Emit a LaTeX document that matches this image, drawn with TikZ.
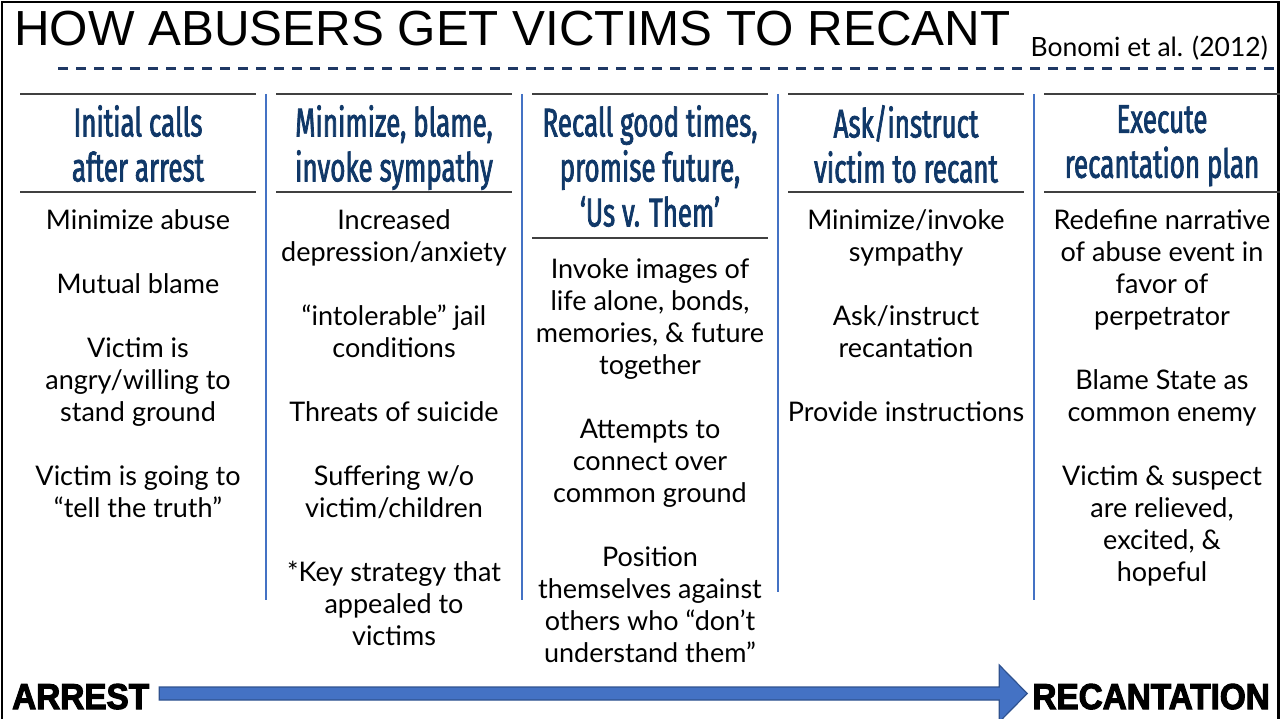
\documentclass[tikz,border=0pt]{standalone}
\usepackage{fontspec}
\setmainfont{Lato}
\newfontfamily\titlefont{Liberation Sans}
\newfontfamily\headfont[FakeStretch=0.65,FakeBold=1.8]{Fira Sans}
\newfontfamily\endfont[FakeStretch=0.925,FakeBold=3]{Liberation Sans Bold}

\definecolor{navy}{HTML}{103868}
\definecolor{dashnavy}{HTML}{1F3864}
\definecolor{sepblue}{HTML}{4472C4}
\definecolor{arrowedge}{HTML}{2F528F}
\definecolor{rulegray}{HTML}{404040}

\tikzset{
  head/.style={font=\headfont\fontsize{40}{45}\selectfont, text=navy, align=center,
    inner sep=0pt, anchor=north, execute at begin node={\rule{0pt}{38pt}}},
  body/.style={font=\fontsize{27}{32}\selectfont, align=center,
    inner sep=0pt, anchor=north, execute at begin node={\rule{0pt}{22pt}}},
  endlabel/.style={font=\endfont\fontsize{36}{36}\selectfont, inner sep=0pt,
    text height=31pt, text depth=0pt},
  colrule/.style={rulegray, line width=1.8pt},
  colsep/.style={sepblue, line width=2.2pt},
  bigarrow/.style={fill=sepblue, draw=arrowedge, line width=1.2pt}
}

\begin{document}
\begin{tikzpicture}[x=1pt, y=-1pt]
\useasboundingbox (0,0) rectangle (1281,719);

% Frame
\draw[line width=2.5pt] (2,719) -- (2,2) -- (1278.5,2) -- (1278.5,719);

% Title and source
\node[anchor=base west, inner sep=0pt, font=\titlefont\fontsize{49.3}{49.3}\selectfont]
  (title) at (14,46) {HOW ABUSERS GET VICTIMS TO RECANT};
\node[anchor=base east, inner sep=0pt, font=\fontsize{26.5}{30}\selectfont]
  (source) at (1268,57) {Bonomi et al. (2012)};
\draw[dashnavy, line width=3pt, dash pattern=on 10pt off 8pt] (58,69) -- (1276,69);

% Header rules
\foreach \x in {20,276,532,788,1044}
  \draw[colrule] (\x,94) -- ++(236,0);
\foreach \x in {20,276,788,1044}
  \draw[colrule] (\x,192) -- ++(236,0);
\draw[colrule] (532,238) -- ++(236,0);

% Column separators
\draw[colsep] (266,94) -- (266,600);
\draw[colsep] (522,94) -- (522,600);
\draw[colsep] (778,94) -- (778,592);
\draw[colsep] (1034,94) -- (1034,600);

% Headers
\node[head] (head1) at (138,105) {Initial calls\\after arrest};
\node[head] (head2) at (394,105) {Minimize, blame,\\invoke sympathy};
\node[head] (head3) at (650,105) {Recall good times,\\promise future,\\‘Us v. Them’};
\node[head] (head4) at (906,105) {Ask/instruct\\victim to recant};
\node[head] (head5) at (1162,105) {Execute\\recantation plan};

% Column texts
\node[body] (body1) at (138,209) {Minimize abuse\\[32pt]Mutual blame\\[32pt]Victim is\\angry/willing to\\stand ground\\[32pt]Victim is going to\\“tell the truth”};
\node[body] (body2) at (394,209) {Increased\\depression/anxiety\\[32pt]“intolerable” jail\\conditions\\[32pt]Threats of suicide\\[32pt]Suffering w/o\\victim/children\\[32pt]*Key strategy that\\appealed to\\victims};
\node[body] (body3) at (650,258) {Invoke images of\\life alone, bonds,\\memories, \& future\\together\\[32pt]Attempts to\\connect over\\common ground\\[32pt]Position\\themselves against\\others who “don’t\\understand them”};
\node[body] (body4) at (906,209) {Minimize/invoke\\sympathy\\[32pt]Ask/instruct\\recantation\\[32pt]Provide instructions};
\node[body] (body5) at (1162,209) {Redefine narrative\\of abuse event in\\favor of\\perpetrator\\[32pt]Blame State as\\common enemy\\[32pt]Victim \& suspect\\are relieved,\\excited, \&\\hopeful};

% Timeline
\node[endlabel, anchor=west] (arrest) at (12,693.5) {ARREST};
\node[endlabel, anchor=east] (recant) at (1270,693.5) {RECANTATION};
\filldraw[bigarrow] ([xshift=10pt,yshift=6.5pt]arrest.east)
  -- ([xshift=-33pt,yshift=6.5pt]recant.west)
  -- ([xshift=-33pt,yshift=28.5pt]recant.west)
  -- ([xshift=-5pt]recant.west)
  -- ([xshift=-33pt,yshift=-28.5pt]recant.west)
  -- ([xshift=-33pt,yshift=-6.5pt]recant.west)
  -- ([xshift=10pt,yshift=-6.5pt]arrest.east) -- cycle;

\end{tikzpicture}
\end{document}
